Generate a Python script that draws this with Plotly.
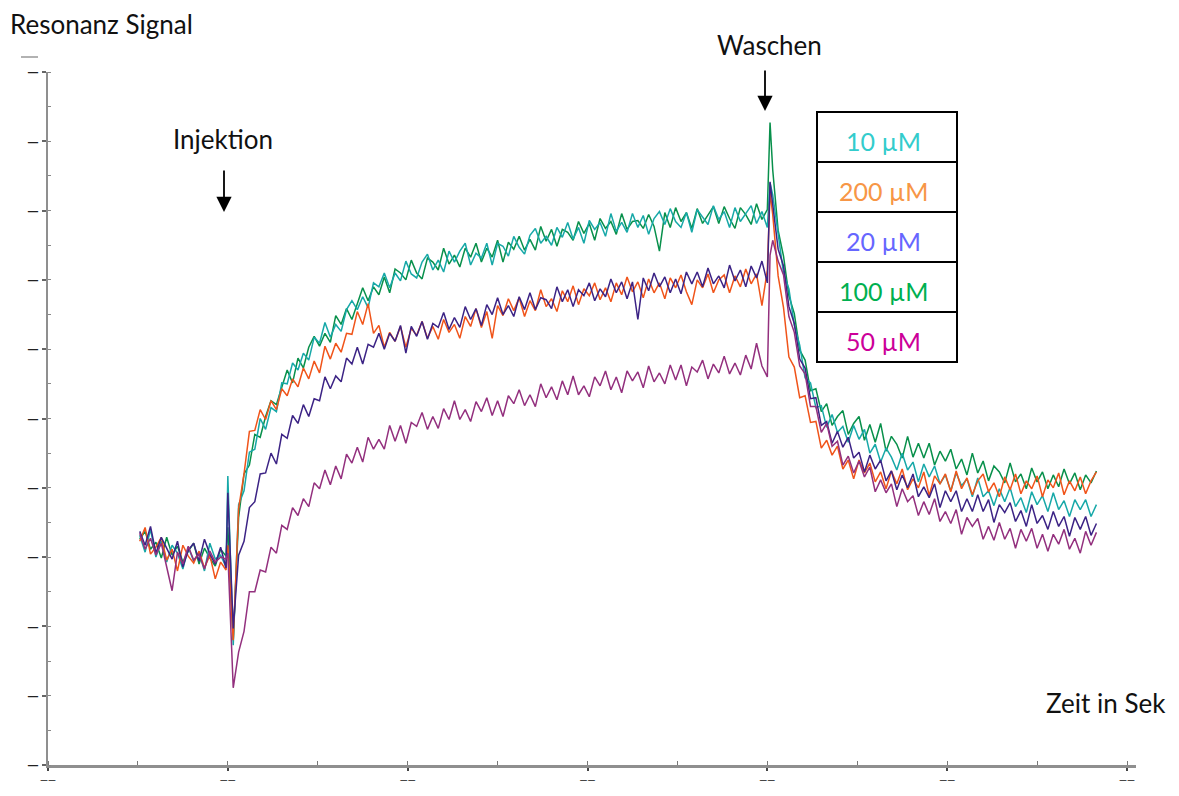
import plotly.graph_objects as go

# ---------------- data (time in s, signal in arbitrary resonance units) ----------------
time_s = (list(range(51, 100, 3)) + [100] + list(range(103, 401, 3))
          + [401.5] + list(range(403, 584, 3)))

labels = ["10 µM", "200 µM", "20 µM", "100 µM", "50 µM"]

# 10 µM
base_10 = [232, 215, 238, 210, 226, 205, 222, 214, 198, 220, 206, 215, 196, 224, 208, 212, 200]
inj_10 = [292]
assoc_10 = [121, 263, 277, 316, 319, 350, 339, 361, 357, 386,
            385, 406, 399, 416, 409, 432, 426, 447, 432, 445,
            438, 460, 469, 460, 473, 462, 487, 483, 497, 482,
            497, 489, 509, 496, 492, 508, 516, 500, 510, 498,
            519, 508, 519, 527, 505, 517, 512, 527, 505, 527,
            524, 514, 534, 523, 516, 535, 542, 527, 534, 525,
            543, 533, 548, 531, 543, 527, 550, 541, 548, 534,
            557, 539, 548, 538, 557, 543, 555, 536, 552, 559,
            546, 562, 549, 543, 558, 538, 561, 554, 546, 565,
            551, 559, 543, 563, 549, 557, 565, 547, 559, 543]
wash_10 = [588]
diss_10 = [576, 534, 497, 481, 444, 424, 391, 386, 361, 363,
           341, 354, 336, 342, 326, 343, 329, 339, 315, 324,
           306, 320, 311, 298, 315, 298, 306, 286, 304, 291,
           302, 284, 293, 277, 295, 282, 289, 271, 290, 271,
           277, 262, 279, 266, 280, 261, 270, 255, 276, 263,
           272, 256, 275, 258, 267, 251, 268, 258, 268, 251, 263]

# 100 µM
base_100 = [228, 236, 218, 225, 209, 230, 212, 221, 205, 216, 224, 203, 219, 209, 201, 218, 211]
inj_100 = [240]
assoc_100 = [126, 250, 294, 303, 334, 331, 352, 368, 364, 381,
             399, 386, 411, 401, 422, 433, 423, 436, 427, 454,
             445, 461, 450, 466, 482, 469, 483, 475, 493, 477,
             501, 497, 490, 510, 497, 491, 512, 508, 500, 522,
             506, 515, 503, 522, 513, 527, 508, 522, 513, 530,
             508, 528, 521, 534, 520, 531, 520, 544, 529, 541,
             524, 541, 538, 530, 549, 537, 547, 530, 552, 542,
             549, 536, 557, 541, 549, 550, 542, 556, 544, 519,
             558, 543, 563, 549, 558, 542, 562, 547, 556, 564,
             547, 564, 552, 542, 563, 556, 546, 567, 551, 561]
wash_100 = [649]
diss_100 = [601, 540, 514, 474, 456, 419, 409, 378, 380, 357,
            365, 343, 352, 358, 334, 345, 352, 328, 344, 326,
            345, 317, 332, 324, 310, 332, 311, 325, 310, 325,
            303, 317, 307, 319, 299, 309, 293, 315, 295, 307,
            287, 302, 296, 285, 305, 286, 294, 279, 300, 286,
            296, 279, 293, 281, 299, 284, 295, 278, 293, 285, 297]

# 200 µM
base_200 = [226, 240, 213, 220, 230, 207, 218, 196, 222, 211, 204, 216, 199, 212, 188, 205, 197]
inj_200 = [222]
assoc_200 = [126, 259, 294, 337, 338, 359, 349, 368, 359, 380,
             373, 390, 382, 401, 390, 408, 396, 423, 410, 426,
             417, 436, 435, 458, 445, 466, 436, 444, 422, 437,
             428, 443, 422, 441, 434, 448, 431, 443, 430, 450,
             437, 445, 431, 453, 443, 461, 442, 458, 431, 464,
             454, 471, 459, 472, 453, 469, 459, 480, 463, 471,
             458, 479, 468, 484, 465, 481, 474, 487, 470, 482,
             468, 487, 475, 493, 478, 488, 472, 491, 477, 487,
             471, 492, 482, 495, 478, 465, 490, 482, 496, 477,
             490, 495, 477, 494, 483, 501, 486, 496, 464, 500]
wash_200 = [579]
diss_200 = [556, 494, 462, 412, 402, 371, 373, 346, 347, 320,
            328, 313, 322, 299, 308, 289, 308, 295, 305, 286,
            296, 279, 297, 284, 299, 278, 289, 280, 296, 272,
            292, 284, 294, 276, 297, 279, 290, 273, 287, 294,
            276, 285, 271, 291, 278, 294, 274, 287, 279, 292,
            271, 288, 280, 295, 273, 287, 277, 291, 274, 287, 296]

# 20 µM
base_20 = [236, 222, 241, 214, 230, 219, 208, 226, 200, 217, 224, 206, 228, 213, 203, 220, 199]
inj_20 = [275]
assoc_20 = [138, 212, 226, 260, 266, 294, 295, 315, 304, 334,
            330, 353, 345, 364, 352, 370, 368, 392, 380, 393,
            387, 411, 405, 422, 405, 425, 422, 436, 420, 436,
            428, 444, 416, 443, 433, 448, 430, 446, 442, 457,
            440, 452, 442, 463, 450, 461, 444, 465, 455, 472,
            455, 464, 453, 473, 460, 477, 460, 472, 470, 461,
            483, 468, 480, 463, 480, 474, 487, 469, 481, 473,
            491, 477, 488, 471, 488, 450, 492, 479, 497, 483,
            493, 477, 491, 476, 498, 486, 498, 483, 502, 486,
            494, 482, 505, 489, 500, 483, 504, 492, 509, 487]
wash_20 = [589]
diss_20 = [566, 521, 504, 463, 446, 410, 401, 370, 371, 343,
           347, 325, 337, 321, 331, 310, 316, 296, 313, 299,
           308, 287, 297, 278, 293, 280, 294, 271, 281, 270,
           284, 260, 277, 266, 277, 256, 269, 256, 273, 256,
           268, 245, 263, 255, 265, 246, 257, 241, 263, 244,
           252, 238, 256, 241, 251, 231, 250, 238, 251, 232, 244]

# 50 µM
base_50 = [234, 218, 229, 212, 224, 199, 176, 215, 203, 221, 207, 213, 198, 216, 205, 210, 208]
inj_50 = [214]
assoc_50 = [78, 114, 135, 175, 175, 197, 195, 220, 214, 242,
            238, 260, 252, 269, 261, 285, 279, 298, 283, 302,
            289, 314, 305, 321, 306, 331, 319, 329, 319, 343,
            327, 343, 325, 346, 342, 356, 339, 352, 340, 360,
            349, 368, 349, 359, 347, 367, 357, 371, 353, 368,
            352, 373, 365, 379, 363, 374, 362, 385, 371, 382,
            369, 388, 374, 393, 374, 383, 372, 392, 383, 398,
            379, 392, 376, 398, 388, 397, 381, 403, 387, 396,
            385, 404, 389, 404, 383, 402, 397, 409, 390, 405,
            396, 413, 395, 406, 394, 414, 400, 426, 403, 392]
wash_50 = [515]
diss_50 = [530, 509, 495, 453, 437, 403, 395, 362, 362, 336,
           345, 322, 327, 303, 312, 295, 307, 291, 301, 276,
           288, 275, 284, 261, 279, 266, 272, 252, 266, 253,
           269, 246, 256, 244, 258, 233, 250, 241, 249, 228,
           241, 227, 245, 228, 239, 219, 238, 226, 239, 219,
           233, 216, 233, 223, 238, 218, 229, 214, 236, 222, 235]

sig = {
    "10 µM": base_10 + inj_10 + assoc_10 + wash_10 + diss_10,
    "100 µM": base_100 + inj_100 + assoc_100 + wash_100 + diss_100,
    "200 µM": base_200 + inj_200 + assoc_200 + wash_200 + diss_200,
    "20 µM": base_20 + inj_20 + assoc_20 + wash_20 + diss_20,
    "50 µM": base_50 + inj_50 + assoc_50 + wash_50 + diss_50,
}

line_colors = {"10 µM": "#17a8a8", "100 µM": "#08904b", "200 µM": "#f0541a",
               "20 µM": "#3c2385", "50 µM": "#93307e"}
label_colors = {"10 µM": "#33CCCC", "200 µM": "#F79646", "20 µM": "#6666FF",
                "100 µM": "#00B050", "50 µM": "#CC0099"}

x_ticks = [0, 100, 200, 300, 400, 500, 600]
y_ticks = [0, 70, 140, 210, 280, 350, 420, 490, 560, 630, 700]

FONT = "Lato, 'Open Sans', sans-serif"

fig = go.Figure()
for name in ["100 µM", "10 µM", "200 µM", "20 µM", "50 µM"]:
    fig.add_trace(go.Scatter(x=time_s, y=sig[name], mode="lines", name=name,
                             line=dict(color=line_colors[name], width=1.5),
                             showlegend=False))

# the page body adds an 8 px offset; layout below is in page pixels minus that offset
OFF = 8
W, H = 1179 - OFF, 796 - OFF
L, R, T, B = 48 - OFF, 1136 - OFF, 72 - OFF, 765 - OFF
def px(xp):
    return (xp - OFF - L) / (R - L)
def py(yp):
    return (B - (yp - OFF)) / (B - T)

shapes = []
rows = [112, 162, 212, 262, 312, 362]
for i in range(5):
    shapes.append(dict(type="rect", xref="paper", yref="paper",
                       x0=px(817), x1=px(957), y0=py(rows[i + 1]), y1=py(rows[i]),
                       line=dict(color="black", width=2), fillcolor="white"))
shapes.append(dict(type="line", xref="paper", yref="paper",
                   x0=px(21), x1=px(38), y0=py(57), y1=py(57),
                   line=dict(color="#999", width=1.5)))

annotations = []
for i, name in enumerate(labels):
    annotations.append(dict(x=px(883), y=py((rows[i] + rows[i + 1]) / 2 + 4),
                            xref="paper", yref="paper", text=name, showarrow=False,
                            font=dict(family=FONT, size=25, color=label_colors[name]),
                            xanchor="center", yanchor="middle"))

TXT = dict(family=FONT, size=26, color="#111")
annotations += [
    dict(x=px(8), y=py(24), xref="paper", yref="paper", text="Resonanz Signal",
         showarrow=False, xanchor="left", yanchor="middle", font=TXT),
    dict(x=px(223), y=py(139), xref="paper", yref="paper", text="Injektion",
         showarrow=False, xanchor="center", yanchor="middle", font=TXT),
    dict(x=px(769), y=py(45), xref="paper", yref="paper", text="Waschen",
         showarrow=False, xanchor="center", yanchor="middle", font=TXT),
    dict(x=px(1106), y=py(703), xref="paper", yref="paper", text="Zeit in Sek",
         showarrow=False, xanchor="center", yanchor="middle", font=TXT),
    dict(x=px(224), y=py(212), xref="paper", yref="paper", text="", showarrow=True,
         ax=0, ay=-43, arrowhead=2, arrowsize=1.7, arrowwidth=1.8, arrowcolor="black"),
    dict(x=px(765), y=py(111), xref="paper", yref="paper", text="", showarrow=True,
         ax=0, ay=-42, arrowhead=2, arrowsize=1.7, arrowwidth=1.8, arrowcolor="black"),
]

fig.update_layout(
    width=W, height=H, autosize=False,
    margin=dict(l=L, r=W - R, t=T, b=H - B, autoexpand=False),
    paper_bgcolor="white", plot_bgcolor="white",
    shapes=shapes, annotations=annotations,
    font=dict(family=FONT),
)
fig.update_xaxes(range=[0, 605], showgrid=False, zeroline=False, automargin=False,
                 showline=True, linecolor="#8f8f8f", linewidth=3,
                 tickmode="array", tickvals=x_ticks, ticktext=["<b>——</b>"] * len(x_ticks),
                 ticks="outside", ticklen=3, tickwidth=1.5, tickcolor="#444",
                 tickfont=dict(size=10, color="#333"),
                 minor=dict(dtick=50, tick0=0, ticks="inside", ticklen=4,
                            tickcolor="#777", tickwidth=1))
fig.update_yaxes(range=[0, 700], showgrid=False, zeroline=False, automargin=False,
                 showline=True, linecolor="#8f8f8f", linewidth=2,
                 tickmode="array", tickvals=y_ticks, ticktext=["<b>—</b>"] * len(y_ticks),
                 ticks="outside", ticklen=4, tickwidth=1.5, tickcolor="#666",
                 tickfont=dict(size=15, color="#222"),
                 minor=dict(dtick=35, tick0=0, ticks="inside", ticklen=3,
                            tickcolor="#888", tickwidth=1))

fig.write_html("out.html")
